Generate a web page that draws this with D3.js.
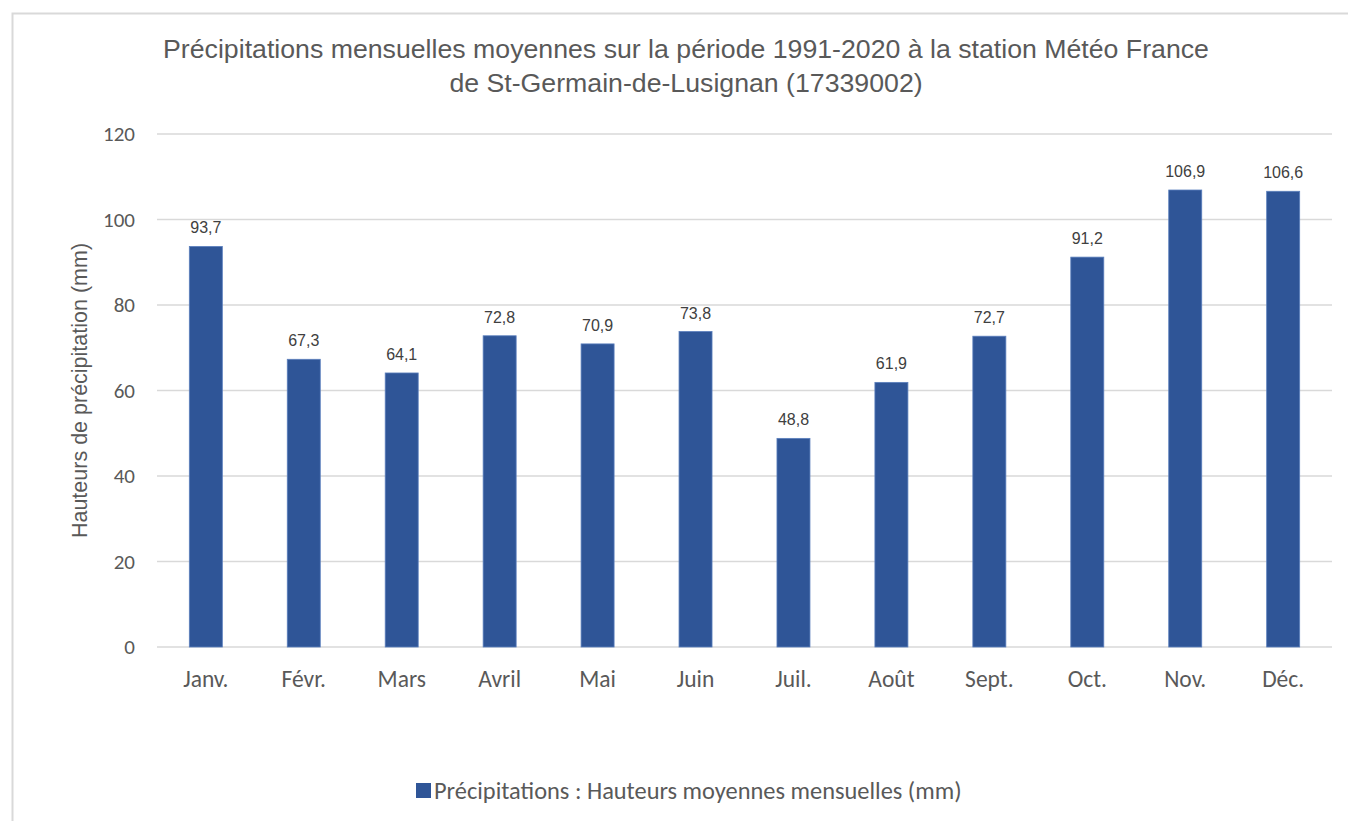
<!DOCTYPE html>
<html>
<head>
<meta charset="utf-8">
<script src="https://cdn.jsdelivr.net/npm/d3@7"></script>
<style>
  body { margin: 0; background: #fff; }
  svg { display: block; }
</style>
</head>
<body>
<div id="chart"></div>
<script>
// monthly mean precipitation, 1991-2020
const months = ["Janv.", "Févr.", "Mars", "Avril", "Mai", "Juin", "Juil.", "Août", "Sept.", "Oct.", "Nov.", "Déc."];
const rain = [93.7, 67.3, 64.1, 72.8, 70.9, 73.8, 48.8, 61.9, 72.7, 91.2, 106.9, 106.6];
const yTicks = [0, 20, 40, 60, 80, 100, 120];
const titleLines = [
  "Précipitations mensuelles moyennes sur la période 1991-2020 à la station Météo France",
  "de St-Germain-de-Lusignan (17339002)"
];
const yTitle = "Hauteurs de précipitation (mm)";
const legendLabel = "Précipitations : Hauteurs moyennes mensuelles (mm)";

const W = 1348, H = 821;
const margin = { top: 134, right: 16, bottom: 174, left: 157 };
const width = W - margin.left - margin.right,
      height = H - margin.top - margin.bottom;

const barColor = "#2f5597";
const textGray = "#595959";
const calibri = "Carlito, Calibri, Lato, sans-serif";
const arial = "Liberation Sans, Arial, sans-serif";

const svg = d3.select("#chart").append("svg")
    .attr("width", W)
    .attr("height", H);

// chart frame (cut by the picture on the right and bottom)
svg.append("rect")
    .attr("x", 12.5).attr("y", 13.5)
    .attr("width", W).attr("height", H)
    .attr("fill", "#fff")
    .attr("stroke", "#d9d9d9")
    .attr("stroke-width", 2);

const g = svg.append("g")
    .attr("transform", `translate(${margin.left},${margin.top})`);

let x = d3.scaleBand()
    .domain(months)
    .range([0, width])
    .paddingInner(0.663)
    .paddingOuter(0.33);

let y = d3.scaleLinear()
    .domain([0, 120])
    .range([height, 0]);

// gridlines
g.append("g")
    .selectAll("line")
    .data(yTicks)
    .enter().append("line")
    .attr("x1", 0).attr("x2", width)
    .attr("y1", d => y(d)).attr("y2", d => y(d))
    .attr("stroke", "#d9d9d9")
    .attr("stroke-width", 1.5);

// y axis labels
let yAxis = d3.axisLeft(y)
    .tickValues(yTicks)
    .tickSize(0)
    .tickPadding(22);

g.append("g")
    .call(yAxis)
    .call(a => a.select(".domain").remove())
    .selectAll("text")
    .attr("fill", textGray)
    .style("font-family", calibri)
    .style("font-size", "21px");

// x axis labels
let xAxis = d3.axisBottom(x)
    .tickSize(0)
    .tickPadding(23);

g.append("g")
    .attr("transform", `translate(0,${height})`)
    .call(xAxis)
    .call(a => a.select(".domain").remove())
    .selectAll("text")
    .attr("fill", textGray)
    .style("font-family", calibri)
    .style("font-size", "23.5px");

// bars
g.selectAll(".bar")
    .data(rain)
    .enter().append("rect")
    .attr("class", "bar")
    .attr("x", (d, i) => x(months[i]))
    .attr("width", x.bandwidth())
    .attr("y", d => y(d))
    .attr("height", d => height - y(d))
    .attr("fill", barColor)
    .attr("stroke", "#5b7fbd")
    .attr("stroke-width", 0.8);

// value labels
g.selectAll(".lbl")
    .data(rain)
    .enter().append("text")
    .attr("class", "lbl")
    .attr("x", (d, i) => x(months[i]) + x.bandwidth() / 2)
    .attr("y", d => y(d) - 13)
    .attr("text-anchor", "middle")
    .attr("fill", "#404040")
    .style("font-family", arial)
    .style("font-size", "16px")
    .text(d => d.toFixed(1).replace(".", ","));

// title
svg.append("g")
    .selectAll("text")
    .data(titleLines)
    .enter().append("text")
    .attr("x", 686)
    .attr("y", (d, i) => 58 + i * 34)
    .attr("text-anchor", "middle")
    .attr("fill", textGray)
    .style("font-family", arial)
    .style("font-size", "26.7px")
    .text(d => d);

// y title
svg.append("text")
    .attr("transform", `translate(87,${margin.top + height / 2}) rotate(-90)`)
    .attr("text-anchor", "middle")
    .attr("fill", textGray)
    .style("font-family", arial)
    .style("font-size", "21.5px")
    .text(yTitle);

// legend
const leg = svg.append("g").attr("transform", "translate(416,783)");
leg.append("rect")
    .attr("width", 15).attr("height", 15)
    .attr("fill", barColor);
leg.append("text")
    .attr("x", 18).attr("y", 16)
    .attr("fill", textGray)
    .style("font-family", calibri)
    .style("font-size", "24.4px")
    .text(legendLabel);
</script>
</body>
</html>
